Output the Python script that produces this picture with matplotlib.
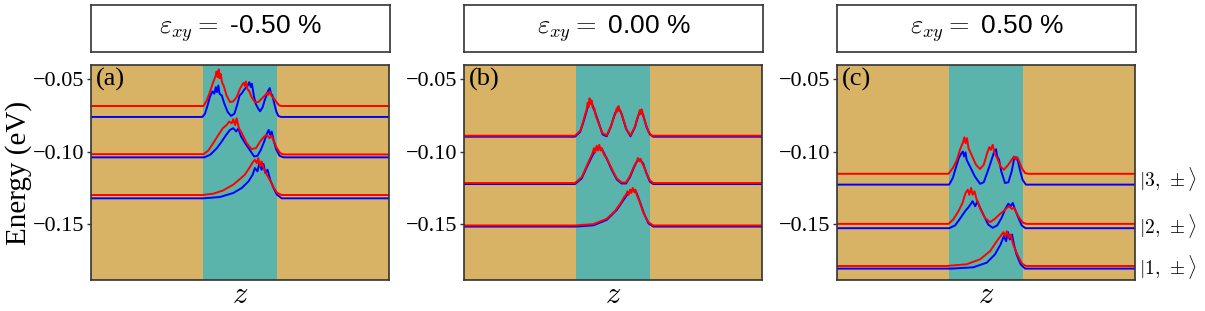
import matplotlib
matplotlib.use("Agg")
import matplotlib.pyplot as plt
import numpy as np

# strain values and labels
strains = ["-0.50", "0.00", "0.50"]
panel_tags = ["(a)", "(b)", "(c)"]
state_labels = [r"$|3,\,\pm\rangle$", r"$|2,\,\pm\rangle$", r"$|1,\,\pm\rangle$"]
state_label_E = [-0.1190, -0.1516, -0.1800]

z_range = (0.0, 80.0)     # nm
qd_range = (30.0, 50.0)   # quantum-dot region (nm)

# (z [nm], E [eV]) points, bump region only
a_red3 = [(30.2, -0.0684), (31.1, -0.0645), (31.9, -0.0588), (32.8, -0.0519), (33.5, -0.0473),
          (33.7, -0.0445), (34.0, -0.0484), (34.3, -0.0431), (34.5, -0.0491), (34.8, -0.0461),
          (35.2, -0.0523), (35.6, -0.0542), (36.4, -0.0611), (37.3, -0.0657), (38.2, -0.0652),
          (39.1, -0.0622), (40.0, -0.0565), (40.6, -0.0537), (41.0, -0.0523), (41.3, -0.0546),
          (41.6, -0.0514), (42.0, -0.0569), (42.4, -0.0576), (43.1, -0.0622), (44.0, -0.0657),
          (44.9, -0.0657), (45.8, -0.0634), (46.7, -0.0611), (47.3, -0.0592), (47.6, -0.0606),
          (48.0, -0.0583), (48.4, -0.0611), (49.0, -0.0629), (49.8, -0.0657), (50.5, -0.0680),
          (51.2, -0.0684)]
a_blue3 = [(29.9, -0.0760), (30.6, -0.0737), (31.3, -0.0680), (31.9, -0.0622), (32.6, -0.0583),
           (33.1, -0.0599), (33.5, -0.0553), (33.8, -0.0588), (34.2, -0.0542), (34.5, -0.0599),
           (35.1, -0.0611), (35.8, -0.0668), (36.7, -0.0726), (37.6, -0.0753), (38.5, -0.0737),
           (39.2, -0.0680), (39.9, -0.0611), (40.4, -0.0599), (41.3, -0.0565), (42.1, -0.0542),
           (42.5, -0.0519), (42.9, -0.0553), (43.2, -0.0530), (43.7, -0.0611), (44.2, -0.0668),
           (44.9, -0.0703), (45.4, -0.0721), (46.1, -0.0691), (46.7, -0.0638), (47.3, -0.0599),
           (47.6, -0.0576), (48.0, -0.0560), (48.3, -0.0599), (48.7, -0.0611), (49.2, -0.0668),
           (49.8, -0.0726), (50.3, -0.0753), (51.0, -0.0760)]
a_red2 = [(30.2, -0.1018), (31.5, -0.0993), (32.8, -0.0942), (34.2, -0.0884), (35.4, -0.0838),
          (36.4, -0.0816), (37.1, -0.0792), (37.8, -0.0804), (38.2, -0.0776), (38.7, -0.0816),
          (39.1, -0.0769), (39.7, -0.0838), (40.5, -0.0873), (41.8, -0.0942), (43.1, -0.0983),
          (44.3, -0.0976), (45.4, -0.0930), (46.5, -0.0896), (47.2, -0.0884), (47.9, -0.0907),
          (48.5, -0.0891), (49.1, -0.0930), (49.9, -0.0976), (50.8, -0.1011), (51.7, -0.1020)]
a_blue2 = [(30.4, -0.1040), (32.0, -0.1022), (33.8, -0.0976), (35.1, -0.0930), (36.3, -0.0884),
           (37.3, -0.0850), (38.2, -0.0838), (39.0, -0.0861), (39.6, -0.0838), (40.2, -0.0891),
           (41.4, -0.0942), (42.6, -0.0988), (43.8, -0.1034), (44.7, -0.1029), (45.6, -0.0988),
           (46.5, -0.0930), (47.2, -0.0877), (47.7, -0.0850), (48.1, -0.0884), (48.5, -0.0861),
           (49.0, -0.0919), (49.7, -0.0983), (50.6, -0.1029), (51.7, -0.1040)]
a_red1 = [(29.9, -0.1301), (32.8, -0.1292), (35.5, -0.1269), (38.2, -0.1229), (40.0, -0.1190),
          (41.3, -0.1160), (42.5, -0.1114), (43.4, -0.1075), (44.0, -0.1057), (44.5, -0.1080),
          (44.9, -0.1045), (45.4, -0.1103), (45.8, -0.1068), (46.5, -0.1126), (47.2, -0.1160),
          (48.2, -0.1206), (49.1, -0.1252), (50.0, -0.1287), (51.2, -0.1301)]
a_blue1 = [(30.2, -0.1324), (34.6, -0.1315), (38.2, -0.1287), (40.5, -0.1252), (42.3, -0.1206),
           (43.4, -0.1160), (44.0, -0.1114), (44.7, -0.1137), (45.2, -0.1080), (45.8, -0.1126),
           (46.3, -0.1085), (46.8, -0.1149), (47.4, -0.1126), (48.1, -0.1195), (49.0, -0.1252),
           (49.9, -0.1298), (51.2, -0.1324)]

b_red3 = [(29.8, -0.0890), (31.2, -0.0856), (32.0, -0.0792), (32.6, -0.0735), (32.9, -0.0712),
          (33.2, -0.0661), (33.5, -0.0689), (33.7, -0.0631), (34.0, -0.0670), (34.3, -0.0647),
          (34.6, -0.0700), (35.0, -0.0700), (35.4, -0.0753), (36.3, -0.0815), (37.2, -0.0873),
          (38.3, -0.0887), (39.4, -0.0827), (40.3, -0.0758), (40.7, -0.0735), (41.0, -0.0700),
          (41.2, -0.0723), (41.5, -0.0684), (41.8, -0.0717), (42.1, -0.0723), (42.8, -0.0781),
          (43.7, -0.0850), (44.7, -0.0887), (45.9, -0.0827), (46.5, -0.0769), (46.9, -0.0746),
          (47.2, -0.0712), (47.4, -0.0740), (47.7, -0.0707), (48.1, -0.0746), (48.6, -0.0792),
          (49.5, -0.0861), (50.4, -0.0890)]
b_blue3 = [(29.8, -0.0897), (31.2, -0.0863), (32.2, -0.0784), (33.1, -0.0703), (33.9, -0.0641),
           (34.7, -0.0692), (36.1, -0.0795), (37.2, -0.0881), (38.3, -0.0894), (39.4, -0.0830),
           (40.5, -0.0738), (41.4, -0.0692), (42.3, -0.0738), (43.5, -0.0841), (44.7, -0.0894),
           (45.9, -0.0830), (46.8, -0.0749), (47.4, -0.0715), (48.1, -0.0749), (49.0, -0.0830),
           (49.9, -0.0881), (50.8, -0.0897)]
b_red2 = [(29.8, -0.1218), (31.6, -0.1177), (32.9, -0.1103), (34.0, -0.1039), (34.5, -0.1011),
          (34.9, -0.0976), (35.2, -0.1006), (35.6, -0.0960), (36.0, -0.0993), (36.3, -0.0953),
          (36.7, -0.0993), (37.0, -0.0976), (37.6, -0.1022), (38.3, -0.1045), (39.7, -0.1121),
          (41.0, -0.1186), (42.3, -0.1214), (43.5, -0.1214), (44.6, -0.1167), (45.7, -0.1098),
          (46.4, -0.1068), (46.7, -0.1045), (47.1, -0.1068), (47.4, -0.1050), (47.8, -0.1080),
          (48.3, -0.1103), (49.0, -0.1149), (49.9, -0.1199), (50.8, -0.1218)]
b_blue2 = [(29.8, -0.1225), (31.6, -0.1186), (32.9, -0.1111), (34.3, -0.1037), (35.4, -0.0986),
           (36.3, -0.0968), (37.2, -0.0991), (38.3, -0.1048), (39.7, -0.1129), (41.0, -0.1193),
           (42.3, -0.1221), (43.5, -0.1221), (44.6, -0.1175), (45.7, -0.1106), (46.5, -0.1064),
           (47.2, -0.1055), (48.1, -0.1083), (49.0, -0.1152), (49.9, -0.1209), (50.8, -0.1225)]
b_red1 = [(29.8, -0.1512), (34.7, -0.1503), (38.3, -0.1466), (40.5, -0.1413), (42.1, -0.1356),
          (43.0, -0.1315), (43.5, -0.1299), (43.9, -0.1275), (44.2, -0.1299), (44.6, -0.1264),
          (44.9, -0.1287), (45.3, -0.1252), (45.7, -0.1282), (46.0, -0.1264), (46.4, -0.1299),
          (47.1, -0.1344), (48.1, -0.1420), (49.5, -0.1489), (50.8, -0.1512)]
b_blue1 = [(29.8, -0.1520), (34.7, -0.1511), (38.3, -0.1474), (41.0, -0.1405), (42.8, -0.1336),
           (44.2, -0.1285), (45.3, -0.1262), (46.2, -0.1278), (47.2, -0.1347), (48.3, -0.1428),
           (49.5, -0.1497), (50.8, -0.1520)]

c_red3 = [(29.9, -0.1154), (31.1, -0.1114), (32.2, -0.1057), (33.0, -0.0988), (33.8, -0.0937),
          (34.2, -0.0901), (34.5, -0.0942), (34.9, -0.0907), (35.3, -0.0976), (36.1, -0.1022),
          (37.3, -0.1091), (38.4, -0.1121), (39.4, -0.1091), (40.3, -0.1011), (40.9, -0.0969),
          (41.3, -0.0988), (41.8, -0.0953), (42.3, -0.1011), (43.0, -0.1045), (43.9, -0.1103),
          (44.8, -0.1126), (46.0, -0.1091), (46.9, -0.1057), (47.5, -0.1034), (48.0, -0.1052),
          (48.4, -0.1039), (48.9, -0.1068), (49.6, -0.1114), (50.5, -0.1149), (51.4, -0.1154)]
c_blue3 = [(30.1, -0.1229), (31.1, -0.1183), (32.0, -0.1103), (32.7, -0.1045), (33.3, -0.1016),
           (33.8, -0.1000), (34.1, -0.1034), (34.5, -0.1006), (34.8, -0.1057), (35.7, -0.1103),
           (37.0, -0.1172), (38.4, -0.1223), (39.4, -0.1213), (40.6, -0.1126), (41.5, -0.1057),
           (42.2, -0.1000), (42.7, -0.0984), (43.0, -0.1034), (43.5, -0.1057), (44.1, -0.1137),
           (45.1, -0.1218), (46.0, -0.1213), (46.9, -0.1137), (47.5, -0.1057), (48.0, -0.1039),
           (48.6, -0.1068), (49.1, -0.1126), (49.8, -0.1195), (50.7, -0.1229)]
c_red2 = [(29.9, -0.1501), (31.2, -0.1471), (32.6, -0.1413), (33.7, -0.1356), (34.5, -0.1287),
          (35.1, -0.1264), (35.5, -0.1299), (36.0, -0.1252), (36.4, -0.1299), (36.9, -0.1275),
          (37.5, -0.1333), (38.4, -0.1390), (39.7, -0.1459), (41.1, -0.1489), (42.4, -0.1466),
          (43.6, -0.1436), (44.7, -0.1413), (45.6, -0.1390), (46.3, -0.1379), (46.9, -0.1397),
          (47.5, -0.1390), (48.2, -0.1425), (49.1, -0.1466), (50.0, -0.1494), (50.9, -0.1501)]
c_blue2 = [(30.1, -0.1531), (31.7, -0.1512), (33.0, -0.1466), (34.4, -0.1413), (35.5, -0.1379),
           (36.4, -0.1344), (37.1, -0.1379), (37.7, -0.1344), (38.4, -0.1390), (39.5, -0.1448),
           (40.6, -0.1506), (41.8, -0.1528), (43.0, -0.1512), (44.2, -0.1459), (45.1, -0.1402),
           (46.0, -0.1361), (46.6, -0.1379), (47.2, -0.1356), (47.8, -0.1402), (48.7, -0.1459),
           (49.6, -0.1512), (50.6, -0.1531)]
c_red1 = [(29.4, -0.1793), (34.8, -0.1781), (38.4, -0.1747), (41.1, -0.1690), (42.9, -0.1621),
          (43.9, -0.1586), (44.7, -0.1558), (45.1, -0.1586), (45.6, -0.1552), (46.1, -0.1598),
          (46.6, -0.1575), (47.3, -0.1644), (48.4, -0.1713), (49.6, -0.1775), (50.7, -0.1793)]
c_blue1 = [(30.8, -0.1811), (36.6, -0.1802), (40.2, -0.1770), (42.4, -0.1713), (43.9, -0.1644),
           (44.8, -0.1586), (45.4, -0.1621), (45.9, -0.1558), (46.4, -0.1609), (47.0, -0.1575),
           (47.5, -0.1644), (48.2, -0.1713), (49.3, -0.1782), (50.5, -0.1811)]

panels = [
    [(a_red3, a_blue3), (a_red2, a_blue2), (a_red1, a_blue1)],
    [(b_red3, b_blue3), (b_red2, b_blue2), (b_red1, b_blue1)],
    [(c_red3, c_blue3), (c_red2, c_blue2), (c_red1, c_blue1)],
]

GOLD = "#d8b365"
TEAL = "#5ab4ac"
EDGE = "#333333"

plt.rcParams["font.family"] = ["Liberation Serif", "DejaVu Serif"]
plt.rcParams["mathtext.fontset"] = "cm"


def full_curve(pts):
    arr = np.array(pts)
    z = np.concatenate([[z_range[0]], arr[:, 0], [z_range[1]]])
    e = np.concatenate([[arr[0, 1]], arr[:, 1], [arr[-1, 1]]])
    return z, e


W, H = 1205, 311
fig = plt.figure(figsize=(W / 100, H / 100), dpi=100)
lefts = [91, 464, 837]

for i, left in enumerate(lefts):
    ax = fig.add_axes([left / W, 31 / H, 298 / W, 215 / H])
    ax.set_facecolor(GOLD)
    ax.axvspan(*qd_range, color=TEAL, lw=0)
    for red, blue in panels[i]:
        zb, eb = full_curve(blue)
        zr, er = full_curve(red)
        ax.plot(zb, eb, color="blue", lw=1.4)
        ax.plot(zr, er, color="red", lw=1.4)
    ax.set_xlim(*z_range)
    ax.set_ylim(-0.189, -0.040)
    ax.set_xticks([])
    ax.set_yticks([-0.15, -0.10, -0.05])
    ax.tick_params(axis="y", direction="out", length=3, width=1, pad=1.5,
                   labelsize=16, color=EDGE)
    for sp in ax.spines.values():
        sp.set_color(EDGE)
        sp.set_linewidth(1.2)
    ax.set_xlabel("$z$", fontsize=22, labelpad=1)
    ax.text(0.015, 0.985, panel_tags[i], transform=ax.transAxes,
            fontsize=19, va="top", ha="left")
    if i == 0:
        ax.set_ylabel("Energy (eV)", fontsize=21, labelpad=1)
    if i == 2:
        for lab, e in zip(state_labels, state_label_E):
            ax.text(1.015, e, lab, transform=ax.get_yaxis_transform(),
                    fontsize=14, va="center", ha="left")

    tax = fig.add_axes([left / W, 259 / H, 299 / W, 47 / H])
    tax.set_xticks([])
    tax.set_yticks([])
    for sp in tax.spines.values():
        sp.set_color(EDGE)
        sp.set_linewidth(1.2)
    tax.text(0.5, 0.5, r"$\varepsilon_{xy} = $ " + strains[i] + " %",
             transform=tax.transAxes, ha="center", va="center",
             fontsize=19, family=["Liberation Sans", "DejaVu Sans"])

fig.savefig("out.png", dpi=100)
